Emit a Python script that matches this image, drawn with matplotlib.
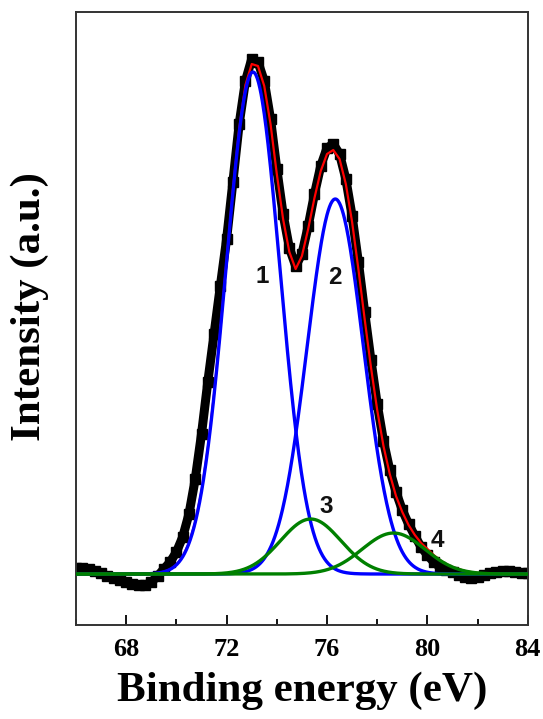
import matplotlib
matplotlib.use("Agg")
import matplotlib.pyplot as plt
import numpy as np
from matplotlib.ticker import MultipleLocator

OUTPUT_PATH = "out.png"

# binding energy grid of the read-off points (eV)
ENERGY = np.linspace(66.0, 84.0, 73)

# measured spectrum (black squares), baseline subtracted, arbitrary units
DATA = [
    6, 6, 5, 3, 1, -2, -4, -6, -8, -10, -11, -11,
    -8, -2, 5, 12, 22, 37, 60, 95, 140, 192, 240, 288,
    335, 392, 450, 493, 515, 512, 493, 455, 405, 360, 326, 308,
    320, 348, 380, 408, 426, 430, 420, 395, 358, 312, 262, 214,
    170, 133, 104, 82, 64, 50, 38, 27, 19, 12, 7, 4,
    2, -1, -3, -4, -3, -1, 1, 2, 3, 3, 2, 1, 1,
]

# fitted envelope (red line)
ENVELOPE = [
    0, 0, 0, 0, 0, 0, 0, 0, 0, 0, 0, 0,
    0.4, 1, 2.3, 4.7, 9.3, 17.4, 31, 52, 83, 125.5, 180, 244,
    314, 384, 445, 489, 510, 508, 488, 450, 400, 355, 322, 305,
    318, 345, 376, 403, 420, 424, 415, 390, 352, 305, 255, 207,
    164, 128, 100, 78, 62, 49, 39, 31, 25, 19, 14, 10,
    7, 5, 3, 2, 1, 0, 0, 0, 0, 0, 0, 0, 0,
]

# fitted components: 1, 2 (blue) and 3, 4 (green)
PEAK_LABELS = ["1", "2", "3", "4"]
PEAK_CENTERS = [73.05, 76.33, 75.35, 78.65]
PEAK_HEIGHTS = [502, 375, 55, 41]
PEAK_FWHM = [2.54, 2.64, 2.83, 2.94]
PEAK_COLORS = ["#0000ff", "#0000ff", "#008000", "#008000"]
LABEL_POS = [(73.43, 298), (76.33, 297), (75.97, 68), (80.4, 34)]

X_TICKS = [68, 72, 76, 80, 84]


def component(x, center, height, fwhm):
    sigma = fwhm / 2.3548
    return height * np.exp(-((x - center) ** 2) / (2 * sigma ** 2))


def main():
    fig = plt.figure(figsize=(5.43, 7.19), dpi=100)
    ax = fig.add_axes([0.140, 0.1307, 0.832, 0.8526])

    ax.plot(ENERGY, DATA, color="black", linewidth=6.5, marker="s",
            markersize=7.5, zorder=2)
    ax.plot(ENERGY, ENVELOPE, color="#ff0000", linewidth=1.6, zorder=3)

    x_fine = np.linspace(66.0, 84.0, 721)
    for c, h, w, col in zip(PEAK_CENTERS, PEAK_HEIGHTS, PEAK_FWHM, PEAK_COLORS):
        z = 4 if col == "#0000ff" else 5
        ax.plot(x_fine, component(x_fine, c, h, w), color=col, linewidth=2.4,
                zorder=z)

    for lab, (lx, ly) in zip(PEAK_LABELS, LABEL_POS):
        ax.text(lx, ly, lab, ha="center", va="center", fontsize=17.5,
                family="Liberation Sans", weight="bold", color="#111111",
                zorder=6)

    ax.set_xlim(66, 84)
    ax.set_ylim(-51, 562)
    ax.set_xticks(X_TICKS)
    ax.xaxis.set_minor_locator(MultipleLocator(2))
    ax.set_yticks([])
    ax.tick_params(axis="x", which="major", direction="in", length=7,
                   width=1.3, top=False, pad=9)
    ax.tick_params(axis="x", which="minor", direction="in", length=4,
                   width=1.3, top=False)
    for lbl in ax.get_xticklabels():
        lbl.set_fontfamily("Liberation Serif")
        lbl.set_fontweight("bold")
        lbl.set_fontsize(19)
    for sp in ax.spines.values():
        sp.set_linewidth(1.4)
        sp.set_color("#333333")

    ax.set_xlabel("Binding energy (eV)", family="Liberation Serif",
                  weight="bold", fontsize=31, labelpad=8)
    ax.set_ylabel("Intensity (a.u.)", family="Liberation Serif",
                  weight="bold", fontsize=31)
    ax.yaxis.set_label_coords(-0.102, 0.519)
    ax.yaxis.label.set_va("center")

    fig.savefig(OUTPUT_PATH, dpi=100)
    plt.close(fig)


if __name__ == "__main__":
    main()
